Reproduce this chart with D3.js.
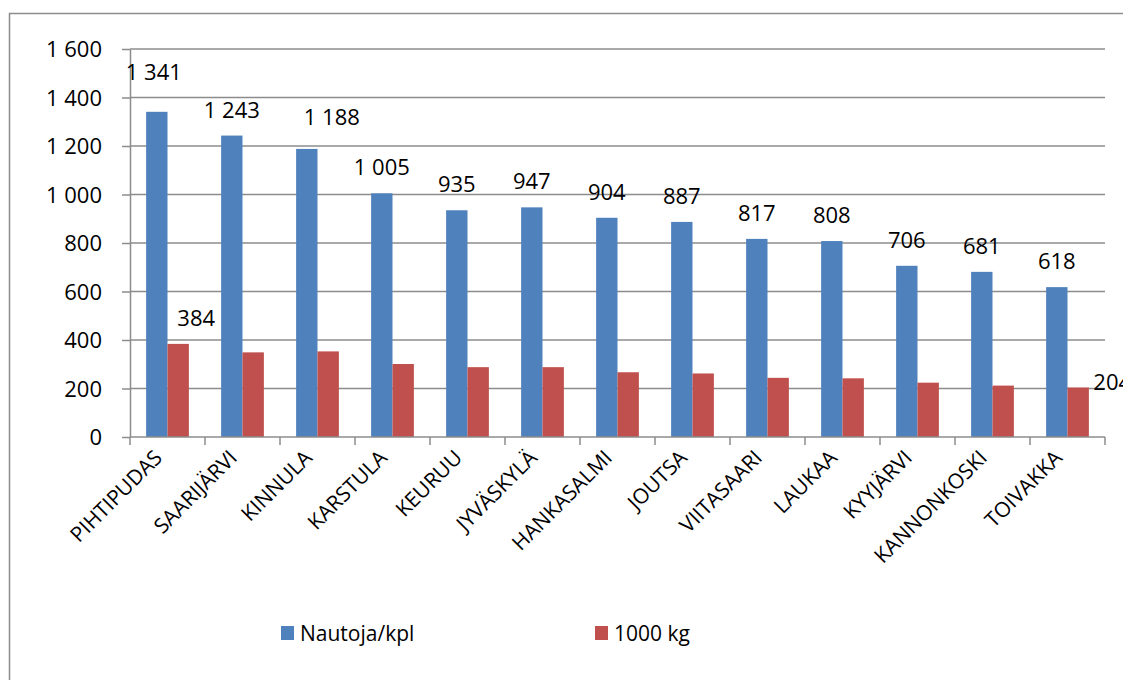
<!DOCTYPE html>
<html>
<head>
<meta charset="utf-8">
<script src="https://cdn.jsdelivr.net/npm/d3@7"></script>
<style>
  body { margin: 0; background: #fff; }
  text { font-family: "Open Sans", sans-serif; fill: #000; }
</style>
</head>
<body>
<div id="chart"></div>
<script>
// data
const municipalities = ["PIHTIPUDAS", "SAARIJÄRVI", "KINNULA", "KARSTULA", "KEURUU", "JYVÄSKYLÄ",
  "HANKASALMI", "JOUTSA", "VIITASAARI", "LAUKAA", "KYYJÄRVI", "KANNONKOSKI", "TOIVAKKA"];
const cattle = [1341, 1243, 1188, 1005, 935, 947, 904, 887, 817, 808, 706, 681, 618];
const milk = [384, 349, 353, 301, 288, 288, 267, 262, 244, 242, 224, 212, 204];
const seriesNames = ["Nautoja/kpl", "1000 kg"];
const yTicks = [0, 200, 400, 600, 800, 1000, 1200, 1400, 1600];
// which red bars carry a label
const milkLabelled = ["PIHTIPUDAS", "TOIVAKKA"];

const width = 1123, height = 680;
const plot = { left: 130, right: 1105, top: 49, bottom: 437 };
const colors = ["#4F81BD", "#C0504D"];

// hand nudges for labels that sit off-centre in the original
const labelNudge = {
  "0-PIHTIPUDAS": [-3, -14], "0-KINNULA": [25, -6],
  "1-PIHTIPUDAS": [18, 0], "1-TOIVAKKA": [34, 20]
};

const svg = d3.select("#chart").append("svg")
    .attr("width", width)
    .attr("height", height);

// outer frame (runs off the right and bottom edge)
svg.append("rect")
    .attr("x", 9.5).attr("y", 13.5)
    .attr("width", 1300).attr("height", 800)
    .attr("fill", "none")
    .attr("stroke", "#8c8c8c")
    .attr("stroke-width", 1.5);

const x0 = d3.scaleBand()
    .domain(municipalities)
    .range([plot.left, plot.right]);

const barW = x0.bandwidth() * 0.285;
const x1 = d3.scaleBand()
    .domain([0, 1])
    .range([x0.bandwidth() / 2 - barW, x0.bandwidth() / 2 + barW]);

const y = d3.scaleLinear()
    .domain([0, 1600])
    .range([plot.bottom, plot.top]);

const fi = d3.formatLocale({ decimal: ",", thousands: " ", grouping: [3], currency: ["", ""] });
const fmt = fi.format(",");

// y axis
const yAxis = svg.append("g")
    .attr("transform", `translate(${plot.left},0)`)
    .call(d3.axisLeft(y).tickValues(yTicks).tickFormat(fmt).tickSize(8).tickSizeOuter(0).tickPadding(20));
yAxis.select(".domain").attr("stroke", "#8c8c8c").attr("stroke-width", 1.5);
yAxis.selectAll(".tick line").attr("stroke", "#8c8c8c").attr("stroke-width", 1.5);
yAxis.selectAll(".tick text").style("font-size", "22px").attr("dy", "0.36em");

// gridlines
svg.append("g")
  .selectAll("line")
  .data(yTicks.filter(d => d > 0))
  .join("line")
    .attr("x1", plot.left).attr("x2", plot.right)
    .attr("y1", d => y(d)).attr("y2", d => y(d))
    .attr("stroke", "#8c8c8c")
    .attr("stroke-width", 1.5);

// bars
const groups = svg.append("g")
  .selectAll("g")
  .data(municipalities)
  .join("g")
    .attr("transform", d => `translate(${x0(d)},0)`);

groups.selectAll("rect")
  .data((d, i) => [cattle[i], milk[i]])
  .join("rect")
    .attr("x", (d, j) => x1(j))
    .attr("y", d => y(d))
    .attr("width", x1.bandwidth())
    .attr("height", d => y(0) - y(d))
    .attr("fill", (d, j) => colors[j]);

// x axis line and boundary ticks
const xAxisG = svg.append("g");
xAxisG.append("line")
    .attr("x1", plot.left).attr("x2", plot.right)
    .attr("y1", y(0)).attr("y2", y(0))
    .attr("stroke", "#8c8c8c").attr("stroke-width", 1.5);
xAxisG.selectAll(".xt")
  .data(municipalities.map(d => x0(d)).concat([x0.range()[1]]))
  .join("line")
    .attr("class", "xt")
    .attr("x1", d => d).attr("x2", d => d)
    .attr("y1", y(0)).attr("y2", y(0) + 8)
    .attr("stroke", "#8c8c8c").attr("stroke-width", 1.5);

// category labels, rotated
svg.append("g")
  .selectAll("text")
  .data(municipalities)
  .join("text")
    .attr("transform", d => `translate(${x0(d) + x0.bandwidth() / 2 - 4},${y(0) + 22}) rotate(-45)`)
    .attr("text-anchor", "end")
    .style("font-size", "21px")
    .text(d => d);

// value labels
const labels = [];
municipalities.forEach((m, i) => {
  labels.push({ key: "0-" + m, m: m, s: 0, v: cattle[i] });
  if (milkLabelled.includes(m)) labels.push({ key: "1-" + m, m: m, s: 1, v: milk[i] });
});

svg.append("g")
  .selectAll("text")
  .data(labels)
  .join("text")
    .attr("x", d => x0(d.m) + x1(d.s) + x1.bandwidth() / 2 + (labelNudge[d.key] ? labelNudge[d.key][0] : 0))
    .attr("y", d => y(d.v) - 18 + (labelNudge[d.key] ? labelNudge[d.key][1] : 0))
    .attr("text-anchor", "middle")
    .style("font-size", "22px")
    .text(d => fmt(d.v));

// legend
const legend = svg.append("g")
    .attr("transform", "translate(281,626)");
const legendItem = legend.selectAll("g")
  .data(seriesNames)
  .join("g")
    .attr("transform", (d, i) => `translate(${i * 314},0)`);
legendItem.append("rect")
    .attr("width", 13).attr("height", 14)
    .attr("fill", (d, i) => colors[i]);
legendItem.append("text")
    .attr("x", 19).attr("y", 15)
    .style("font-size", "21px")
    .text(d => d);
</script>
</body>
</html>
